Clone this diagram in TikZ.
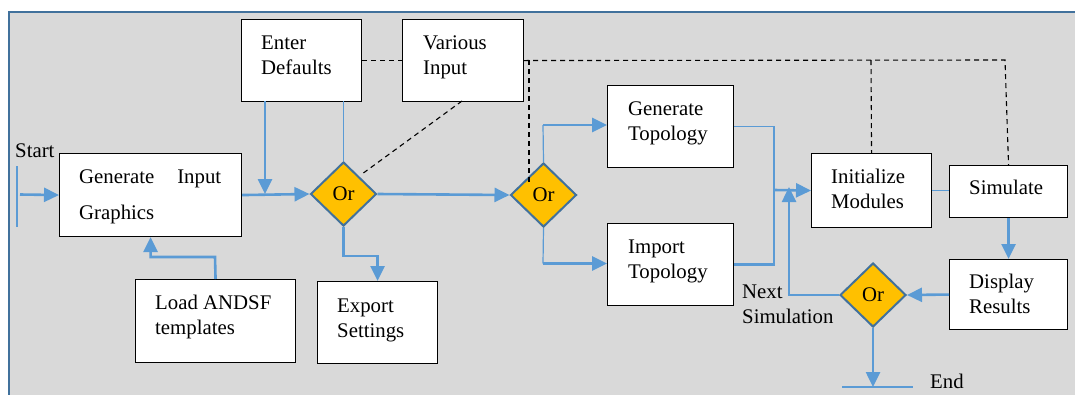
\documentclass[tikz,border=0pt]{standalone}
\usepackage{fontspec}
\setmainfont{Liberation Serif}
\usetikzlibrary{shapes.geometric,arrows.meta}
\definecolor{lnblue}{HTML}{5B9BD5}
\definecolor{dkblue}{HTML}{41719C}
\definecolor{bggray}{HTML}{D9D9D9}
\definecolor{orfill}{HTML}{FFC000}
\newcommand\firstln{\rule{0pt}{15pt}}
\begin{document}
\begin{tikzpicture}[x=1pt,y=-1pt,
  box/.style={draw=black, line width=1.1pt, fill=white, inner sep=0pt, anchor=north west},
  txt/.style={anchor=north west, inner sep=0pt, align=left, font=\fontsize{20.8}{25}\selectfont},
  orn/.style={diamond, draw=dkblue, line width=2pt, fill=orfill, inner sep=0pt,
     minimum width=66pt, minimum height=64pt, font=\fontsize{20.8}{25}\selectfont},
  thinln/.style={draw=lnblue, line width=1.2pt},
  thickln/.style={draw=lnblue, line width=2.6pt},
  arr/.style={-{Triangle[length=15pt,width=14pt]}},
  dashln/.style={draw=black, line width=1.1pt, dash pattern=on 5pt off 4pt}
]
\useasboundingbox (0,0) rectangle (1075,394);
% frame
\path[fill=bggray, draw=dkblue, line width=2pt] (9,11.5) rectangle (1090,410);

% boxes
\node[box, minimum width=120pt, minimum height=82pt] (ED) at (241,19) {};
\node[box, minimum width=121pt, minimum height=82pt] (VI) at (402,19) {};
\node[box, minimum width=182pt, minimum height=83pt] (GIG) at (59,153) {};
\node[box, minimum width=160pt, minimum height=83pt] (LA) at (135,279) {};
\node[box, minimum width=120pt, minimum height=82pt] (EX) at (317,281) {};
\node[box, minimum width=126pt, minimum height=82pt] (GT) at (607,85) {};
\node[box, minimum width=126pt, minimum height=82pt] (IT) at (607,223) {};
\node[box, minimum width=120pt, minimum height=74pt] (IM) at (811,153) {};
\node[box, minimum width=118pt, minimum height=52pt] (SIM) at (949,165) {};
\node[box, minimum width=118pt, minimum height=70pt] (DR) at (949,259) {};

% texts
\node[txt] (EDt) at (261,34) {\firstln Enter\\Defaults};
\node[txt] (VIt) at (423,34) {\firstln Various\\Input};
\node[txt] (GIGt) at (79,168) {\firstln\makebox[142pt][l]{Generate\hfill Input}\\[11pt]Graphics};
\node[txt] (LAt) at (155,294) {\firstln Load ANDSF\\templates};
\node[txt] (EXt) at (337,297) {\firstln Export\\Settings};
\node[txt] (GTt) at (628,100) {\firstln Generate\\Topology};
\node[txt] (ITt) at (628,238) {\firstln Import\\Topology};
\node[txt] (IMt) at (831,168) {\firstln Initialize\\Modules};
\node[txt] (SIMt) at (969,179) {\firstln Simulate};
\node[txt] (DRt) at (969,273) {\firstln Display\\Results};
\node[txt] (NSt) at (742,283) {\firstln Next\\Simulation};
\node[txt] (STt) at (15,142) {\firstln Start};
\node[txt] (ENt) at (930,373) {\firstln End};

% diamonds
\node[orn] (D1) at (343.5,194) {Or};
\node[orn] (D2) at (543.5,195) {Or};
\node[orn] (D3) at (873,295) {Or};

% coordinates
\coordinate (S1) at (17,166);
\coordinate (S2) at (17,227);
\coordinate (S3) at (20,194.5);
\coordinate (E1) at (842,387);
\coordinate (E2) at (913,387);
\coordinate (J1) at (774,190);
\coordinate (T2) at (543,125);
\coordinate (B2) at (543,263.5);

% start / end
\draw[thinln] (S1) -- (S2);
\draw[thickln, arr] (S3) -- (GIG.west);
\draw[thinln] (E1) -- (E2);
\draw[thickln, arr] (D3.south) -- (D3.south |- E1);

% main flow
\draw[thickln, arr] (GIG.east) -- (D1.west);
\draw[thickln, arr] (265,101) -- (265,194);
\draw[thinln] (343.5,101) -- (D1.north);
\draw[thickln, arr] (D1.south) -- (343.5,256) -| (EX.north);
\draw[thickln, arr] (LA.north) -- (215,257) -| (GIG.south);
\draw[thickln, arr] (D1.east) -- (D2.west);
\draw[thinln] (D2.north) -- (T2);
\draw[thickln, arr] (T2) -- (GT.west |- T2);
\draw[thinln] (D2.south) -- (B2);
\draw[thickln, arr] (B2) -- (IT.west |- B2);
\draw[thinln] (GT.east) -| (J1);
\draw[thickln] (IT.east) -| (J1);
\draw[thickln, arr] (J1) -- (IM.west);
\draw[thinln] (IM.east) -- (SIM.west |- IM.east);
\draw[thickln, arr] (SIM.south) -- (DR.north);
\draw[thickln, arr] (DR.west) -- (D3.east);
\draw[thickln, arr] (D3.west) -| (789,187);

% dashed
\draw[dashln] (ED.east) -- (VI.west);
\draw[dashln] (VI.east) -- (1005,60) -- (SIM.north);
\draw[dashln] (871,60) -- (IM.north);
\draw[dashln] (529,60) -- (529,182);
\draw[dashln] (462,101) -- (362,174);
\end{tikzpicture}
\end{document}
